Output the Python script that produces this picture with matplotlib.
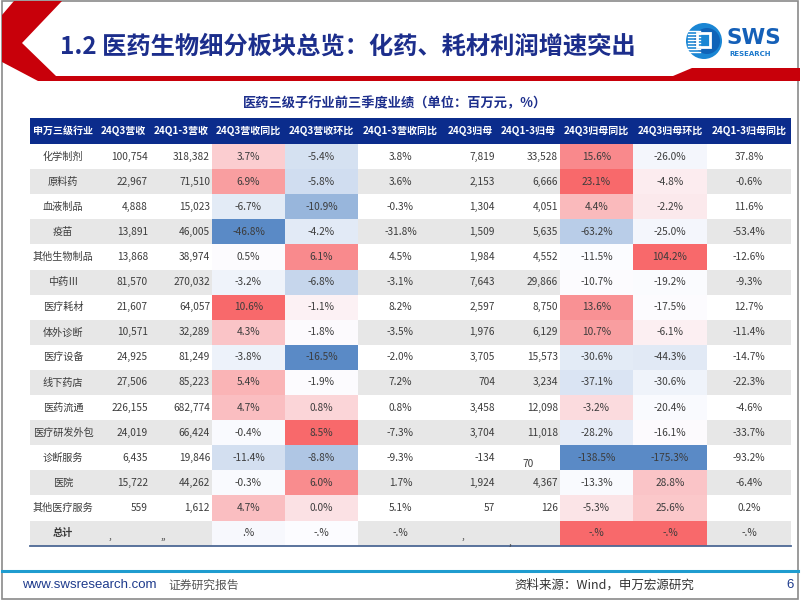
import numpy as np
import matplotlib
matplotlib.use("Agg")
import matplotlib.pyplot as plt
from matplotlib.patches import Rectangle, Polygon, Circle
from matplotlib.colors import LinearSegmentedColormap, TwoSlopeNorm

plt.rcParams['font.family'] = ['Noto Sans CJK SC', 'DejaVu Sans']

# table data
headers = ["申万三级行业", "24Q3营收", "24Q1-3营收", "24Q3营收同比", "24Q3营收环比",
           "24Q1-3营收同比", "24Q3归母", "24Q1-3归母", "24Q3归母同比", "24Q3归母环比",
           "24Q1-3归母同比"]
names = ["化学制剂", "原料药", "血液制品", "疫苗", "其他生物制品", "中药Ⅲ", "医疗耗材",
         "体外诊断", "医疗设备", "线下药店", "医药流通", "医疗研发外包", "诊断服务",
         "医院", "其他医疗服务"]
rev_q3 = [100754, 22967, 4888, 13891, 13868, 81570, 21607, 10571, 24925, 27506,
          226155, 24019, 6435, 15722, 559]
rev_q13 = [318382, 71510, 15023, 46005, 38974, 270032, 64057, 32289, 81249, 85223,
           682774, 66424, 19846, 44262, 1612]
rev_yoy = [3.7, 6.9, -6.7, -46.8, 0.5, -3.2, 10.6, 4.3, -3.8, 5.4, 4.7, -0.4, -11.4, -0.3, 4.7]
rev_qoq = [-5.4, -5.8, -10.9, -4.2, 6.1, -6.8, -1.1, -1.8, -16.5, -1.9, 0.8, 8.5, -8.8, 6.0, 0.0]
rev_q13_yoy = [3.8, 3.6, -0.3, -31.8, 4.5, -3.1, 8.2, -3.5, -2.0, 7.2, 0.8, -7.3, -9.3, 1.7, 5.1]
np_q3 = [7819, 2153, 1304, 1509, 1984, 7643, 2597, 1976, 3705, 704, 3458, 3704, -134, 1924, 57]
np_q13 = [33528, 6666, 4051, 5635, 4552, 29866, 8750, 6129, 15573, 3234, 12098, 11018,
          70, 4367, 126]
np_yoy = [15.6, 23.1, 4.4, -63.2, -11.5, -10.7, 13.6, 10.7, -30.6, -37.1, -3.2, -28.2,
          -138.5, -13.3, -5.3]
np_qoq = [-26.0, -4.8, -2.2, -25.0, 104.2, -19.2, -17.5, -6.1, -44.3, -30.6, -20.4, -16.1,
          -175.3, 28.8, 25.6]
np_q13_yoy = [37.8, -0.6, 11.6, -53.4, -12.6, -9.3, 12.7, -11.4, -14.7, -22.3, -4.6,
              -33.7, -93.2, -6.4, 0.2]
# the total row of the source is broken (only separators left)
total_texts = ["总计", ",", ",,", ".%", "-.%", "-.%", ",", ",", "-.%", "-.%", "-.%"]

NAVY = "#1c2e8c"
HEAD = "#0b2c8c"
RED = "#c8000a"
TXT = "#3c3c3c"
BAND = "#e7e7e7"

fig = plt.figure(figsize=(8.02, 6.02), dpi=100)
ax = fig.add_axes([0, 0, 1, 1])
ax.set_xlim(0, 802)
ax.set_ylim(602, 0)
ax.axis("off")

# slide frame
ax.add_patch(Rectangle((2, 1), 796, 598, fill=False, ec="#8a8a8a", lw=1.2))

# red chevron + bar
ax.add_patch(Polygon([(14, 1), (62, 1), (22, 43), (56, 76), (673, 76), (692, 68),
                      (800, 68), (800, 81), (38, 81), (2, 62), (2, 15)],
                     closed=True, fc=RED, ec="none"))

ax.text(60, 47, "1.2 医药生物细分板块总览：化药、耗材利润增速突出", fontsize=17.5,
        fontweight="bold", color=NAVY, va="center", ha="left")

# logo
ax.add_patch(Circle((704, 41), 18, fc="#1a86d4", ec="none"))
ax.add_patch(Circle((707, 41), 13, fc="#0f63b8", ec="none"))
for yy in [31, 34, 37, 40, 43, 46, 49, 52]:
    ax.plot([688, 700], [yy, yy], color="white", lw=1.0)
ax.add_patch(Rectangle((697, 33), 13, 14, fc="#1a86d4", ec="white", lw=2))
ax.text(727, 38, "SWS", fontsize=15.5, fontweight="bold", color="#1560b8",
        va="center", ha="left", family="DejaVu Sans")
ax.text(729, 54, "RESEARCH", fontsize=5, fontweight="bold", color="#1a78cc",
        va="center", ha="left", family="DejaVu Sans")

ax.text(395, 103, "医药三级子行业前三季度业绩（单位：百万元，%）", fontsize=9.5,
        fontweight="bold", color=NAVY, va="center", ha="center")

# table layout
edges = [30, 96, 150, 212, 285, 358, 443, 497, 560, 633, 707, 791]
head_top, head_h = 118, 26
row_h = 25.1
n_rows = len(names) + 1
align = ["center", "right", "right", "center", "center", "center", "right", "right",
         "center", "center", "center"]

ax.add_patch(Rectangle((edges[0], head_top), edges[-1] - edges[0], head_h,
                       fc=HEAD, ec="none"))
for j, h in enumerate(headers):
    xc = (edges[j] + edges[j + 1]) / 2
    ax.text(xc, head_top + head_h / 2, h, fontsize=7.2, fontweight="bold",
            color="white", ha="center", va="center")

cmap = LinearSegmentedColormap.from_list("excel3", ["#5A8AC6", "#FCFCFF", "#F8696B"])
heat = {3: rev_yoy, 4: rev_qoq, 8: np_yoy, 9: np_qoq}
norms = {j: TwoSlopeNorm(vmin=min(v), vcenter=float(np.median(v)), vmax=max(v))
         for j, v in heat.items()}
total_fill = {3: "#f7f8fd", 4: "#fcfcff", 8: "#F8696B", 9: "#F8696B"}

def fmt_int(v):
    return f"{v:,}"

def fmt_pct(v):
    return f"{v:.1f}%"

y0 = head_top + head_h
for i in range(n_rows):
    top = y0 + i * row_h
    yc = top + row_h / 2
    if i % 2 == 1:
        ax.add_patch(Rectangle((edges[0], top), edges[-1] - edges[0], row_h,
                               fc=BAND, ec="none"))
    if i < len(names):
        cells = [names[i], fmt_int(rev_q3[i]), fmt_int(rev_q13[i]), fmt_pct(rev_yoy[i]),
                 fmt_pct(rev_qoq[i]), fmt_pct(rev_q13_yoy[i]), fmt_int(np_q3[i]),
                 fmt_int(np_q13[i]), fmt_pct(np_yoy[i]), fmt_pct(np_qoq[i]),
                 fmt_pct(np_q13_yoy[i])]
        for j, vals in heat.items():
            ax.add_patch(Rectangle((edges[j], top), edges[j + 1] - edges[j], row_h,
                                   fc=cmap(norms[j](vals[i])), ec="none"))
        for j, t in enumerate(cells):
            if align[j] == "right":
                x, ha = edges[j + 1] - 2, "right"
            else:
                x, ha = (edges[j] + edges[j + 1]) / 2, "center"
            dy = 0
            if j == 7 and np_q13[i] < 100:
                # misplaced value in the source
                x, ha, dy = 522, "left", 6
            ax.text(x, yc + dy, t, fontsize=7.3, color=TXT, ha=ha, va="center")
    else:
        for j, c in total_fill.items():
            ax.add_patch(Rectangle((edges[j], top), edges[j + 1] - edges[j], row_h,
                                   fc=c, ec="none"))
        spots = {1: (110, 3), 2: (163, 3), 6: (463, 3), 7: (510, 9)}
        for j, t in enumerate(total_texts):
            if j in spots:
                x, dy = spots[j]
                ax.text(x, yc + dy, t, fontsize=7.3, color=TXT, ha="center", va="center")
            else:
                xc = (edges[j] + edges[j + 1]) / 2
                ax.text(xc, yc, t, fontsize=7.3, color=TXT, ha="center", va="center",
                        fontweight="bold" if j == 0 else "normal")

bottom = y0 + n_rows * row_h
ax.plot([edges[0], edges[-1]], [bottom, bottom], color="#4d6894", lw=1.3)

# footer
ax.plot([2, 798], [571, 571], color="#1f9ccf", lw=2.2)
ax.text(22, 585, "www.swsresearch.com", fontsize=9.5, color="#1d3a8c", ha="left",
        va="center", family=["Liberation Sans", "DejaVu Sans"])
ax.text(168, 585, "证券研究报告", fontsize=8.5, color="#555555", ha="left", va="center")
ax.text(514, 585, "资料来源：Wind，申万宏源研究", fontsize=9, color="#333333", ha="left",
        va="center")
ax.text(790, 585, "6", fontsize=9.5, color="#1d3a8c", ha="center", va="center",
        family=["Liberation Sans", "DejaVu Sans"])

fig.savefig("out.png", dpi=100)
